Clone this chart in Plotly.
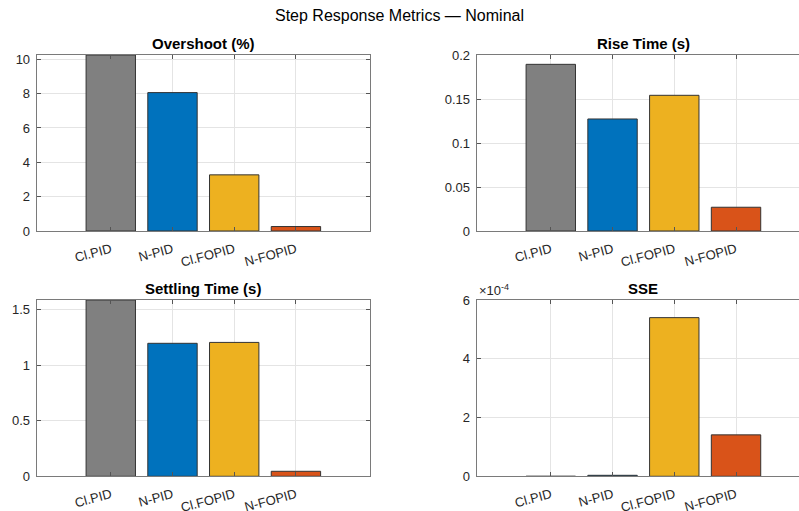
import plotly.graph_objects as go

categories = ["Cl.PID", "N-PID", "Cl.FOPID", "N-FOPID"]
positions = [1, 2, 3, 4]
colors = ["#808080", "#0072BD", "#EDB120", "#D95319"]

overshoot = [10.25, 8.06, 3.27, 0.26]
rise_time = [0.1894, 0.1273, 0.1542, 0.0270]
settling_time = [1.584, 1.195, 1.203, 0.045]
sse = [0.0, 0.034e-4, 5.40e-4, 1.41e-4]

W, H = 799, 511
FONT = "Liberation Sans, Arial, Helvetica, sans-serif"
AXC = "#7a7a7a"
GRID = "#e4e4e4"
TXT = "#262626"

panels = [
    dict(title="Overshoot (%)", vals=overshoot, x=(36.7, 370.0), y=(55, 231),
         yr=[0, 10.25], tv=[0, 2, 4, 6, 8, 10], tt=["0", "2", "4", "6", "8", "10"], xr=[-0.2, 5.2], right=False),
    dict(title="Rise Time (s)", vals=rise_time, x=(476.7, 799.0), y=(55, 231),
         yr=[0, 0.2], tv=[0, 0.05, 0.1, 0.15, 0.2], tt=["0", "0.05", "0.1", "0.15", "0.2"], xr=[-0.2, 5.02], right=True),
    dict(title="Settling Time (s)", vals=settling_time, x=(36.7, 370.0), y=(300, 476.3),
         yr=[0, 1.584], tv=[0, 0.5, 1, 1.5], tt=["0", "0.5", "1", "1.5"], xr=[-0.2, 5.2], right=False),
    dict(title="SSE", vals=sse, x=(476.7, 799.0), y=(300, 476.3),
         yr=[0, 6e-4], tv=[0, 2e-4, 4e-4, 6e-4], tt=["0", "2", "4", "6"], xr=[-0.2, 5.02], right=True),
]


def px(xp):
    return xp / W


def py(yp):
    return 1 - yp / H


fig = go.Figure()
layout = dict(
    width=W, height=H, margin=dict(l=0, r=0, t=0, b=0, autoexpand=False),
    paper_bgcolor="white", plot_bgcolor="white", showlegend=False,
    font=dict(family=FONT, size=12, color=TXT),
    annotations=[], bargap=0.2,
)

for i, p in enumerate(panels, start=1):
    xa = "x" if i == 1 else f"x{i}"
    ya = "y" if i == 1 else f"y{i}"
    fig.add_trace(go.Bar(
        x=positions, y=p["vals"], width=0.8,
        marker=dict(color=colors, line=dict(color="#333333", width=1)),
        xaxis=xa, yaxis=ya, hoverinfo="skip",
    ))
    xd = [max(0.0, px(p["x"][0])), min(1.0, px(p["x"][1]))]
    yd = [py(p["y"][1]), py(p["y"][0])]
    layout[f"xaxis{'' if i == 1 else i}"] = dict(
        domain=xd, anchor=ya, range=p["xr"], tickvals=positions, ticktext=categories,
        tickangle=-15, showgrid=True, gridcolor=GRID, gridwidth=1, automargin=False,
        showline=True, linecolor=AXC, linewidth=1, mirror="ticks",
        ticks="inside", ticklen=4, tickcolor="#555555", zeroline=False,
        ticklabelstandoff=5,
        tickfont=dict(family=FONT, size=13, color=TXT), fixedrange=True,
    )
    layout[f"yaxis{'' if i == 1 else i}"] = dict(
        domain=yd, anchor=xa, range=p["yr"], tickvals=p["tv"], ticktext=p["tt"],
        showgrid=True, gridcolor=GRID, gridwidth=1, automargin=False,
        showline=True, linecolor=AXC, linewidth=1,
        mirror=(False if p["right"] else "ticks"),
        ticks="inside", ticklen=4, tickcolor="#555555", zeroline=False,
        ticklabelstandoff=3,
        tickfont=dict(family=FONT, size=13, color=TXT), fixedrange=True,
    )
    layout["annotations"].append(dict(
        text=f"<b>{p['title']}</b>", x=px(p["x"][0] + 333.3 / 2),
        y=yd[1], xref="paper", yref="paper", xanchor="center", yanchor="bottom",
        yshift=1, showarrow=False, font=dict(family=FONT, size=15, color="#000000"),
    ))

layout["annotations"].append(dict(
    text="×10<sup>-4</sup>", x=px(476.7), y=py(300), xref="paper", yref="paper",
    xanchor="left", yanchor="bottom", yshift=0, showarrow=False,
    font=dict(family=FONT, size=13, color=TXT),
))
layout["annotations"].append(dict(
    text="Step Response Metrics — Nominal", x=px(399.5), y=py(15), xref="paper", yref="paper",
    xanchor="center", yanchor="middle", showarrow=False,
    font=dict(family=FONT, size=16, color="#000000"),
))

fig.update_layout(**layout)
fig.write_html(
    "out.html",
    config={"displayModeBar": False},
    post_script="document.body.style.margin='0';document.body.style.overflow='hidden';",
)
